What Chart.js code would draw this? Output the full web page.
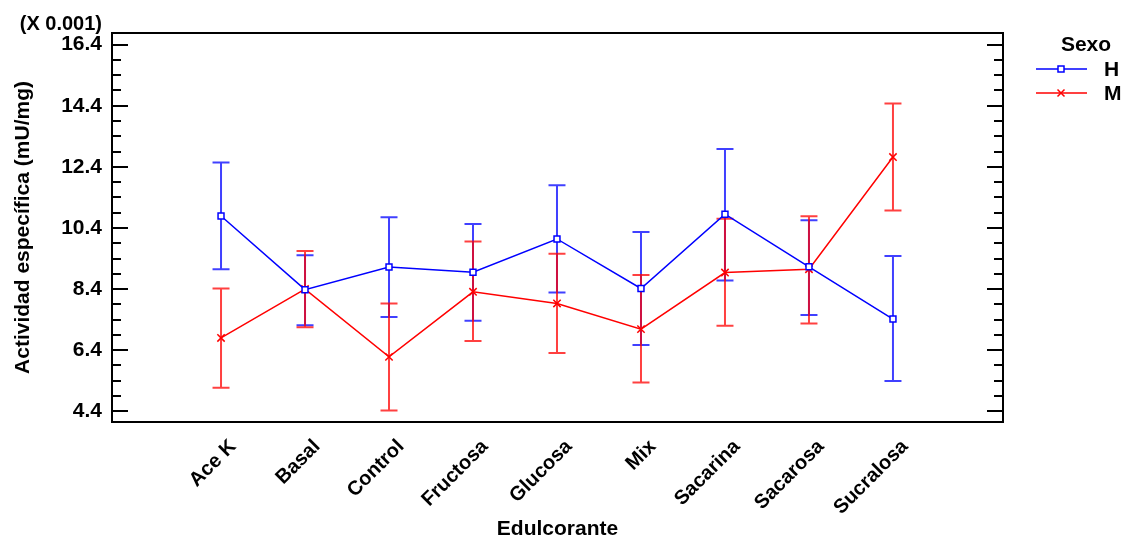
<!DOCTYPE html>
<html>
<head>
<meta charset="utf-8">
<script src="https://cdn.jsdelivr.net/npm/chart.js@4.4.1/dist/chart.umd.min.js"></script>
<style>
  html, body { margin: 0; padding: 0; background: #fff; }
  #wrap { width: 1126px; height: 540px; position: relative; }
</style>
</head>
<body>
<div id="wrap"><canvas id="chart"></canvas></div>
<script>
// --- datos ---
const categories = ['Ace K', 'Basal', 'Control', 'Fructosa', 'Glucosa', 'Mix', 'Sacarina', 'Sacarosa', 'Sucralosa'];
const hMean  = [10.79, 8.38, 9.12, 8.95, 10.04, 8.42, 10.85, 9.13, 7.42];
const hUpper = [12.54, 9.51, 10.75, 10.53, 11.80, 10.27, 12.98, 10.65, 9.48];
const hLower = [9.05, 7.22, 7.49, 7.36, 8.29, 6.57, 8.68, 7.55, 5.39];
const mMean  = [6.80, 8.40, 6.18, 8.31, 7.93, 7.09, 8.94, 9.05, 12.72];
const mUpper = [8.42, 9.65, 7.93, 9.96, 9.56, 8.86, 10.70, 10.78, 14.47];
const mLower = [5.17, 7.15, 4.43, 6.70, 6.31, 5.34, 7.20, 7.27, 10.97];
const yTicks = [4.4, 6.4, 8.4, 10.4, 12.4, 14.4, 16.4];
const yMinorStep = 0.5;

const FONT = "'Liberation Sans', Arial, sans-serif";
const BLUE = '#0000ff';
const RED = '#ff0000';

const toPoints = (arr) => arr.map((v, i) => ({ x: i, y: v }));

// barras de error (intervalos) dibujadas con las escalas
const errorBars = {
    id: 'errorBars',
    beforeDatasetsDraw(chart) {
        const { ctx, scales: { x, y } } = chart;
        const sets = [
            { up: hUpper, lo: hLower, color: BLUE },
            { up: mUpper, lo: mLower, color: RED }
        ];
        ctx.save();
        ctx.globalAlpha = 0.75;
        ctx.lineWidth = 2;
        sets.forEach(s => {
            ctx.strokeStyle = s.color;
            s.up.forEach((u, i) => {
                const px = x.getPixelForValue(i);
                const pu = y.getPixelForValue(u);
                const pl = y.getPixelForValue(s.lo[i]);
                ctx.beginPath();
                ctx.moveTo(px, pu); ctx.lineTo(px, pl);
                ctx.moveTo(px - 8.5, pu); ctx.lineTo(px + 8.5, pu);
                ctx.moveTo(px - 8.5, pl); ctx.lineTo(px + 8.5, pl);
                ctx.stroke();
            });
        });
        ctx.restore();
    }
};

// marco, marcas interiores, factor de escala y leyenda
const frame = {
    id: 'frame',
    afterDraw(chart) {
        const { ctx, chartArea: a, scales: { y } } = chart;
        ctx.save();
        ctx.strokeStyle = '#000';
        ctx.lineWidth = 2;
        ctx.strokeRect(a.left, a.top, a.right - a.left, a.bottom - a.top);

        ctx.beginPath();
        for (let v = yTicks[0]; v <= y.max + 1e-9; v += yMinorStep) {
            const py = Math.round(y.getPixelForValue(v));
            const major = yTicks.some(t => Math.abs(t - v) < 1e-6);
            const len = major ? 16 : 9;
            ctx.moveTo(a.left, py); ctx.lineTo(a.left + len, py);
            ctx.moveTo(a.right, py); ctx.lineTo(a.right - len, py);
        }
        ctx.stroke();

        ctx.fillStyle = '#000';
        ctx.font = `bold 20px ${FONT}`;
        ctx.textAlign = 'right';
        ctx.textBaseline = 'middle';
        ctx.fillText('(X 0.001)', 102, 24);

        // leyenda
        ctx.font = `bold 21px ${FONT}`;
        ctx.textAlign = 'center';
        ctx.fillText('Sexo', 1086, 45);
        ctx.textAlign = 'left';
        const items = [
            { label: 'H', color: BLUE, yy: 69, mark: 'sq' },
            { label: 'M', color: RED, yy: 93, mark: 'x' }
        ];
        items.forEach(it => {
            ctx.strokeStyle = it.color;
            ctx.lineWidth = 1.5;
            ctx.beginPath();
            ctx.moveTo(1036, it.yy); ctx.lineTo(1087, it.yy);
            ctx.stroke();
            if (it.mark === 'sq') {
                ctx.fillStyle = '#fff';
                ctx.fillRect(1058, it.yy - 3, 6, 6);
                ctx.strokeRect(1058, it.yy - 3, 6, 6);
            } else {
                ctx.beginPath();
                ctx.moveTo(1057.5, it.yy - 3.5); ctx.lineTo(1064.5, it.yy + 3.5);
                ctx.moveTo(1064.5, it.yy - 3.5); ctx.lineTo(1057.5, it.yy + 3.5);
                ctx.stroke();
            }
            ctx.fillStyle = '#000';
            ctx.fillText(it.label, 1104, it.yy + 1);
        });
        ctx.restore();
    }
};

new Chart(document.getElementById('chart'), {
    type: 'line',
    data: {
        datasets: [
            {
                label: 'H',
                data: toPoints(hMean),
                borderColor: BLUE,
                borderWidth: 1.5,
                pointStyle: 'rect',
                pointRadius: 4.2,
                pointBorderWidth: 1.5,
                pointBackgroundColor: '#fff',
                pointBorderColor: BLUE,
                tension: 0
            },
            {
                label: 'M',
                data: toPoints(mMean),
                borderColor: RED,
                borderWidth: 1.5,
                pointStyle: 'crossRot',
                pointRadius: 5.2,
                pointBorderWidth: 1.5,
                pointBorderColor: RED,
                tension: 0
            }
        ]
    },
    options: {
        responsive: true,
        maintainAspectRatio: false,
        animation: false,
        layout: { padding: { top: 33, right: 123, bottom: 0, left: 0 } },
        plugins: {
            legend: { display: false },
            tooltip: { enabled: false }
        },
        scales: {
            x: {
                type: 'linear',
                min: -1.298,
                max: 9.31,
                grid: { display: false, drawTicks: false },
                border: { display: false },
                afterBuildTicks: (s) => { s.ticks = categories.map((c, i) => ({ value: i })); },
                afterFit: (s) => { s.height = 118; },
                ticks: {
                    autoSkip: false,
                    minRotation: 45,
                    maxRotation: 45,
                    padding: 13,
                    labelOffset: 12,
                    color: '#000',
                    font: { family: FONT, size: 20, weight: 'bold' },
                    callback: (v) => categories[v]
                },
                title: {
                    display: true,
                    text: 'Edulcorante',
                    color: '#000',
                    font: { family: FONT, size: 21, weight: 'bold', lineHeight: 1.0 },
                    padding: { top: 0, bottom: 0 }
                }
            },
            y: {
                min: 4.05,
                max: 16.78,
                grid: { display: false, drawTicks: false },
                border: { display: false },
                afterBuildTicks: (s) => { s.ticks = yTicks.map(v => ({ value: v })); },
                afterFit: (s) => { s.width = 112; },
                ticks: {
                    padding: 10,
                    color: '#000',
                    font: { family: FONT, size: 21, weight: 'bold' },
                    callback: (v) => v.toFixed(1)
                },
                title: {
                    display: true,
                    text: 'Actividad específica (mU/mg)',
                    color: '#000',
                    font: { family: FONT, size: 21, weight: 'bold', lineHeight: 1.0 },
                    padding: { top: 13, bottom: 0 }
                }
            }
        }
    },
    plugins: [errorBars, frame]
});
</script>
</body>
</html>
